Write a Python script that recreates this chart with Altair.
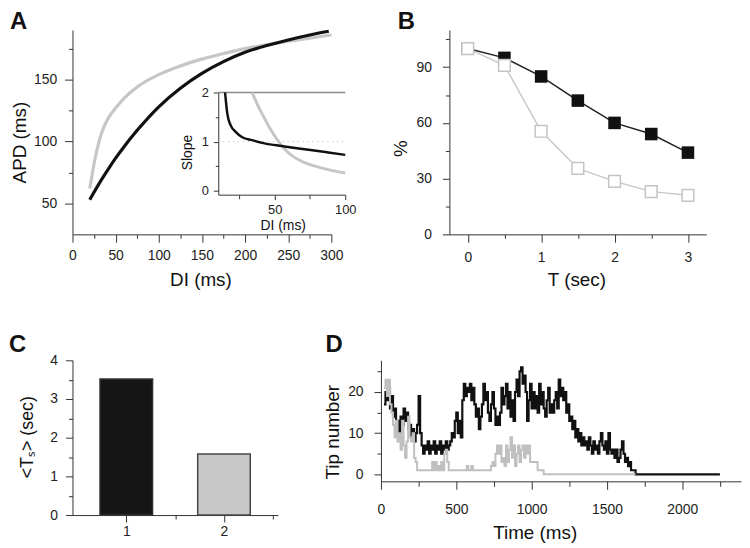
import altair as alt
import pandas as pd

FONT = "Liberation Sans"
AX = "#333333"
BLACK = "#111111"
GRAY = "#c6c6c6"

# ---------------- Panel A: APD restitution ----------------
a_di_black = [20, 30, 40, 50, 60, 75, 100, 125, 150, 175, 200, 225, 250, 275, 297]
a_apd_black = [53, 65, 76, 86.5, 96, 109, 128, 143, 155, 164.5, 172, 177.5, 182, 186, 189]
a_di_gray = [20, 22, 25, 28, 32, 36, 40, 45, 50, 60, 75, 100, 125, 150, 175, 200, 225, 250, 275, 300]
a_apd_gray = [62, 70, 82, 92, 103, 111, 117, 122.5, 127, 135, 144, 154, 161, 166.5, 171, 175, 178, 181, 183.5, 186]

# inset: slope of restitution
in_di_black = [14.8, 16.4, 18.8, 22.3, 27, 34, 43.5, 55, 67, 78, 88, 100]
in_slope_black = [2.0, 1.57, 1.33, 1.2, 1.09, 1.03, 0.96, 0.91, 0.86, 0.82, 0.78, 0.73]
in_di_gray = [34, 38, 42.3, 47, 52.8, 58, 62, 67, 72, 78.6, 88, 100]
in_slope_gray = [2.0, 1.74, 1.5, 1.25, 1.0, 0.82, 0.72, 0.63, 0.56, 0.5, 0.43, 0.36]

# ---------------- Panel B ----------------
b_t = [0, 0.5, 1, 1.5, 2, 2.5, 3]
b_black = [100, 95, 85, 72, 60, 54, 44]
b_gray = [100, 91, 55.5, 35.5, 28.5, 23, 21]

# ---------------- Panel C ----------------
c_cond = [1, 2]
c_ts = [3.52, 1.58]
c_grp = ["1", "2"]

# ---------------- Panel D: tip number vs time ----------------
d_time = list(range(20, 1700, 10)) + [2250]
d_black = [
    17, 20, 18, 21, 16, 19, 14, 16,
    11, 13, 10, 14, 12, 16, 13, 15, 11, 12,
    9, 11, 8, 10, 12, 19, 10, 7, 5, 7,
    6, 8, 5, 7, 6, 8, 5, 7, 6, 8,
    5, 7, 6, 8, 6, 7, 8, 10, 9, 13,
    15, 10, 13, 9, 18, 22, 19, 21, 20, 22,
    18, 21, 17, 14, 16, 11, 14, 17, 22, 18,
    20, 15, 13, 17, 20, 16, 12, 14, 12, 15,
    21, 17, 19, 22, 16, 20, 14, 18, 13, 20,
    23, 19, 25, 26, 22, 24, 20, 13, 18, 22,
    16, 20, 16, 19, 15, 22, 17, 20, 16, 14,
    18, 21, 15, 17, 15, 18, 20, 16, 23, 19,
    21, 18, 20, 15, 17, 13, 14, 11, 13, 9,
    11, 8, 10, 7, 9, 7, 8, 6, 9, 7,
    5, 8, 6, 7, 5, 8, 10, 7, 6, 8,
    5, 10, 6, 5, 6, 4, 6, 3, 4, 6,
    8, 5, 3, 4, 2, 3, 1, 1, 1, 0,
    0,
]
d_gray = [
    21, 23, 19, 23, 17, 15, 12, 9,
    13, 8, 10, 6, 13, 7, 4, 8, 14, 9,
    8, 10, 4, 3, 1, 1, 1, 1, 1, 1,
    1, 1, 1, 1, 3, 1, 3, 1, 2, 1,
    3, 1, 5, 6, 3, 1, 1, 1, 1, 1,
    1, 1, 1, 1, 1, 1, 1, 2, 1, 1,
    2, 1, 1, 1, 1, 1, 1, 1, 1, 1,
    1, 1, 1, 2, 3, 2, 5, 7, 5, 7,
    3, 4, 2, 7, 3, 6, 9, 4, 7, 2,
    5, 7, 3, 6, 7, 4, 7, 5, 7, 3,
    3, 3, 3, 3, 1, 1, 1, 1, 0, 0,
    0, 0, 0, 0, 0, 0, 0, 0, 0, 0,
    0, 0, 0, 0, 0, 0, 0, 0, 0, 0,
    0, 0, 0, 0, 0, 0, 0, 0, 0, 0,
    0, 0, 0, 0, 0, 0, 0, 0, 0, 0,
    0, 0, 0, 0, 0, 0, 0, 0, 0, 0,
    0, 0, 0, 0, 0, 0, 0, 0, 0, 0,
]
d_time_gray = list(range(20, 1700, 10))


def axis(values, test, title="", major=8, minor=4, pad=6, label_size=14,
         title_size=19, **kw):
    args = dict(
        values=values,
        tickSize={"condition": {"test": test, "value": major}, "value": minor},
        labelExpr=f"{test} ? '' + datum.value : ''",
        labelPadding=pad,
        labelFontSize=label_size,
        titleFontSize=title_size,
        title=title,
        grid=False,
        labelFlush=False,
        labelOverlap=False,
    )
    args.update(kw)
    return alt.Axis(**args)


def letter(ch, x, y):
    return alt.Chart(pd.DataFrame({"t": [ch]})).mark_text(
        align="left", baseline="alphabetic", fontSize=24, fontWeight="bold",
        font=FONT, color=BLACK
    ).encode(text="t:N", x=alt.value(x), y=alt.value(y))


# ---------- Panel A ----------
axA_x = axis([0, 25, 50, 75, 100, 125, 150, 175, 200, 225, 250, 275, 300], "datum.value % 50 === 0",
             title="DI (ms)", pad=6, titleX=129, titleY=52, titleBaseline="alphabetic")
axA_y = axis([50, 75, 100, 125, 150, 175], "datum.value % 50 === 0", title="APD (ms)", pad=8,
             titleX=-47, titleY=113, titleBaseline="alphabetic", titleAlign="center", titleAngle=-90)
xA = alt.X("di:Q", scale=alt.Scale(domain=[0, 300], nice=False, zero=False), axis=axA_x)
yA = alt.Y("apd:Q", scale=alt.Scale(domain=[25, 190], nice=False, zero=False), axis=axA_y)

a_gray = alt.Chart(pd.DataFrame({"di": a_di_gray, "apd": a_apd_gray})).mark_line(
    color=GRAY, strokeWidth=3.2, interpolate="monotone").encode(x=xA, y=yA)
a_black = alt.Chart(pd.DataFrame({"di": a_di_black, "apd": a_apd_black})).mark_line(
    color=BLACK, strokeWidth=3.2, interpolate="monotone").encode(x=xA, y=yA)
a_main = alt.layer(a_gray, a_black, letter("A", -63, -1))

axI_x = axis([25, 50, 75, 100], "datum.value % 50 === 0", title="DI (ms)", major=5, minor=4,
             pad=4, label_size=13, title_size=14, orient="bottom", offset=-40,
             titleX=212, titleY=35, titleBaseline="alphabetic")
axI_y = axis([0, 0.5, 1, 1.5, 2], "datum.value % 1 === 0", title="Slope", major=5, minor=3,
             pad=5, label_size=13, title_size=14, orient="left", offset=-147,
             titleX=-27, titleY=123, titleBaseline="alphabetic", titleAlign="center", titleAngle=-90)
xI = alt.X("di:Q", scale=alt.Scale(domain=[10, 100], range=[147, 275], nice=False, zero=False), axis=axI_x)
yI = alt.Y("slope:Q", scale=alt.Scale(domain=[-0.08, 2], range=[166, 63], nice=False, zero=False), axis=axI_y)

ref_df = pd.DataFrame({"di": [10, 10], "di2": [100, 100], "slope": [1, 2], "kind": ["dot", "top"]})
i_dot = alt.Chart(ref_df[ref_df.kind == "dot"]).mark_rule(
    color="#b0b0b0", strokeWidth=1, strokeDash=[1, 4]).encode(x=xI, x2="di2:Q", y=yI)
i_top = alt.Chart(ref_df[ref_df.kind == "top"]).mark_rule(
    color="#8a8a8a", strokeWidth=1.5).encode(x=xI, x2="di2:Q", y=yI)
i_gray = alt.Chart(pd.DataFrame({"di": in_di_gray, "slope": in_slope_gray})).mark_line(
    color=GRAY, strokeWidth=3, interpolate="monotone").encode(x=xI, y=yI)
i_black = alt.Chart(pd.DataFrame({"di": in_di_black, "slope": in_slope_black})).mark_line(
    color=BLACK, strokeWidth=2.5, interpolate="monotone").encode(x=xI, y=yI)
a_inset = alt.layer(i_dot, i_top, i_gray, i_black)

panelA = alt.layer(a_main, a_inset).resolve_scale(x="independent", y="independent").properties(
    width=261, height=206)

# ---------- Panel B ----------
axB_x = axis([0, 0.5, 1, 1.5, 2, 2.5, 3], "datum.value % 1 === 0", title="T (sec)", pad=8,
             titleX=128, titleY=52, titleBaseline="alphabetic")
axB_y = axis([0, 15, 30, 45, 60, 75, 90, 105], "datum.value % 30 === 0", title="%", major=7, pad=11,
             titleX=-43, titleY=119, titleBaseline="alphabetic", titleAlign="center", titleAngle=-90)
xB = alt.X("t:Q", scale=alt.Scale(domain=[-0.25, 3.25], nice=False, zero=False), axis=axB_x)
yB = alt.Y("pct:Q", scale=alt.Scale(domain=[0, 110], nice=False), axis=axB_y)
dfb_black = pd.DataFrame({"t": b_t, "pct": b_black})
dfb_gray = pd.DataFrame({"t": b_t, "pct": b_gray})
b_line_k = alt.Chart(dfb_black).mark_line(color="#222222", strokeWidth=1.5).encode(x=xB, y=yB)
b_pts_k = alt.Chart(dfb_black).mark_square(size=160, color=BLACK, opacity=1).encode(x=xB, y=yB)
b_line_g = alt.Chart(dfb_gray).mark_line(color="#c8c8c8", strokeWidth=1.5).encode(x=xB, y=yB)
b_pts_g = alt.Chart(dfb_gray).mark_square(size=140, filled=True, fill="white", stroke="#c4c4c4",
                                          strokeWidth=1.5, opacity=1).encode(x=xB, y=yB)
panelB = alt.layer(b_line_k, b_pts_k, b_line_g, b_pts_g, letter("B", -52, -1)).properties(
    width=259, height=206)

# ---------- Panel C ----------
axC_x = axis([1, 1.5, 2, 2.5], "datum.value % 1 === 0", title="", major=7, minor=4, pad=3)
axC_y = axis([0, 0.5, 1, 1.5, 2, 2.5, 3, 3.5, 4], "datum.value % 1 === 0", title="<Tₛ> (sec)",
             major=7, minor=4, pad=8, title_size=18,
             titleX=-40, titleY=77, titleBaseline="alphabetic", titleAlign="center", titleAngle=-90)
dfc = pd.DataFrame({"cond": c_cond, "ts": c_ts, "grp": c_grp})
c_bars = alt.Chart(dfc).mark_bar(size=53, strokeWidth=1.5, opacity=1).encode(
    x=alt.X("cond:Q", scale=alt.Scale(domain=[0.5, 2.5], nice=False, zero=False), axis=axC_x),
    y=alt.Y("ts:Q", scale=alt.Scale(domain=[0, 4], nice=False), axis=axC_y),
    fill=alt.Fill("grp:N", scale=alt.Scale(domain=c_grp, range=["#151515", "#c8c8c8"]), legend=None),
    stroke=alt.Stroke("grp:N", scale=alt.Scale(domain=c_grp, range=["#333333", "#444444"]), legend=None),
)
panelC = alt.layer(c_bars, letter("C", -64, -8)).properties(width=207, height=156)

# ---------- Panel D ----------
axD_x = axis(list(range(0, 2251, 250)), "datum.value % 500 === 0", title="Time (ms)",
             major=8, minor=5, pad=13, titleX=155, titleY=58, titleBaseline="alphabetic")
axD_y = axis([0, 5, 10, 15, 20, 25], "datum.value % 10 === 0", title="Tip number", major=7, minor=4,
             pad=11, titleX=-43, titleY=72, titleBaseline="alphabetic", titleAlign="center",
             titleAngle=-90)
xD = alt.X("time:Q", scale=alt.Scale(domain=[0, 2390], nice=False, zero=False), axis=axD_x)
yD = alt.Y("tips:Q", scale=alt.Scale(domain=[-1.7, 27.7], nice=False, zero=False), axis=axD_y)
d_k = alt.Chart(pd.DataFrame({"time": d_time, "tips": d_black})).mark_line(
    color=BLACK, strokeWidth=2.2, interpolate="step-after").encode(x=xD, y=yD)
d_g = alt.Chart(pd.DataFrame({"time": d_time_gray, "tips": d_gray})).mark_line(
    color="#c0c0c0", strokeWidth=2, interpolate="step-after").encode(x=xD, y=yD)
panelD = alt.layer(d_k, d_g, letter("D", -56, -8)).properties(width=363, height=122)

row1 = alt.hconcat(panelA, panelB, spacing=119, bounds="flush")
row2 = alt.hconcat(panelC, panelD, spacing=104, bounds="flush")

chart = alt.vconcat(row1, row2, spacing=42).properties(
    padding={"left": 0, "top": -1, "right": 0, "bottom": 0}, background="white"
).configure_view(stroke="transparent").configure_axis(
    domainColor=AX, tickColor=AX, labelColor="#222222", labelFont=FONT, titleFont=FONT,
    titleFontWeight="normal", titleColor="#111111", domainWidth=1, tickWidth=1,
)

chart.save("out.html", embed_options={"renderer": "svg", "actions": False})
